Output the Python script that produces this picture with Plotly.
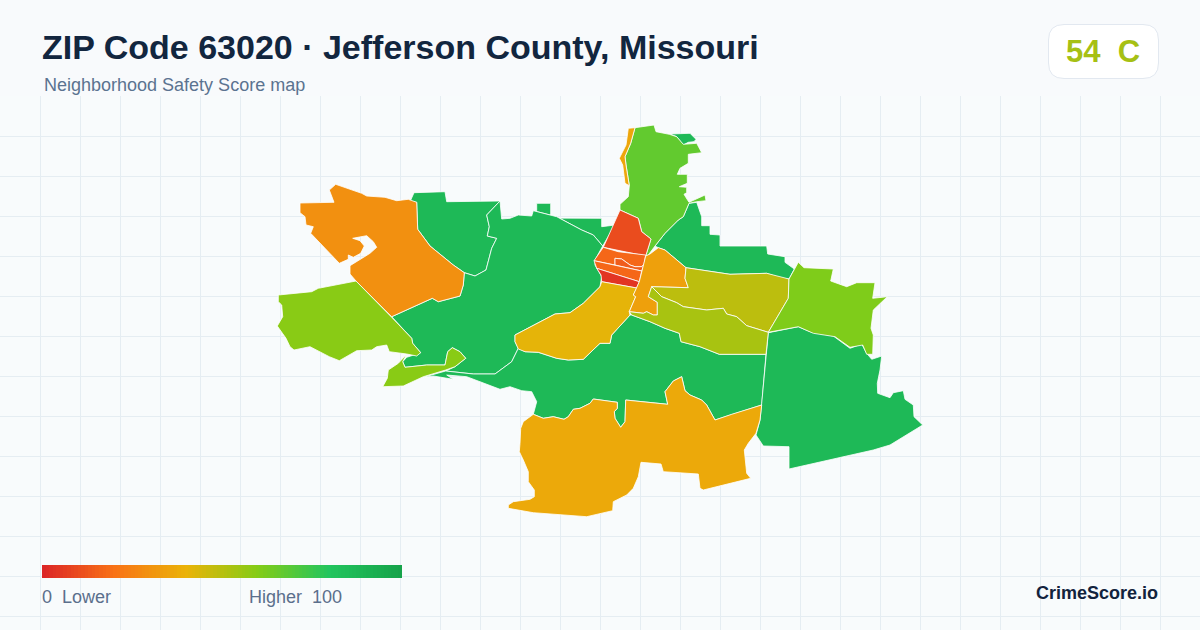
"""Neighborhood safety score map for ZIP 63020, outlines traced in picture pixels."""

import numpy as np
import plotly.graph_objects as go

# ── Data ─────────────────────────────────────────────────────────────────────
TITLE = "ZIP Code 63020 · Jefferson County, Missouri"
SUBTITLE = "Neighborhood Safety Score map"
OVERALL = "54  C"
BRAND = "CrimeScore.io"

score_stops = [0, 20, 40, 60, 80, 100]
score_colors = ["#dc2626", "#f97316", "#eab308", "#84cc16", "#22c55e", "#16a34a"]
ramp_scores = list(range(0, 101))

nw_green = [(410, 201.7), (414, 192.7), (445, 191.7), (446.7, 201.7), (500, 201), (486.7, 215), (489.3, 226.7),
            (487.3, 236), (496.7, 238.3), (491.7, 248.3), (486, 270), (475, 276), (464.3, 272.7), (453.3, 265),
            (430, 246), (417.7, 229.3), (416.7, 202.3)]
north_green = [(533.3, 210.7), (536.7, 210.7), (536.7, 203.3), (550.7, 203.3), (550.7, 216), (558, 218),
               (601.7, 218.3), (601.7, 226.7), (615, 225), (602.7, 246), (593.3, 235), (581.7, 230), (556.7, 216.7)]
center_green = [(464.3, 272.7), (475, 276), (486, 270), (491.7, 248.3), (496.7, 238.3), (487.3, 236), (489.3, 226.7),
                (486.7, 215), (500, 201), (501.7, 219), (510, 218.3), (518.3, 215), (531.7, 216), (533.3, 210.7),
                (556.7, 216.7), (581.7, 230), (593.3, 235), (602.7, 246), (595, 260), (595, 265), (601.7, 276.7),
                (600, 286.7), (583.3, 303.3), (570, 312.7), (555, 314), (515, 335), (515, 341.7), (518.3, 348.3),
                (511.7, 361.7), (495, 374), (473.3, 374), (445.7, 371), (455, 366.7), (465.7, 358.3), (460, 351.7),
                (452.3, 347.7), (447.7, 351.7), (445, 365), (426.7, 365), (413.3, 366.7), (405, 367.3), (402.7, 361.7),
                (406.7, 357.3), (420.7, 352.7), (412.7, 343.3), (411.7, 338.3), (391.7, 316.7), (432.3, 298.3),
                (438.3, 301.7), (460, 296), (463.3, 285)]
south_green = [(445.7, 371), (473.3, 374), (495, 374), (511.7, 361.7), (518.3, 348.3), (525, 351.7), (538.3, 352.3),
               (556.7, 358.3), (568.3, 360), (583.3, 359.3), (600, 343.3), (610, 343.3), (611.7, 335), (630, 315),
               (631.7, 315), (650, 321.7), (665, 328.3), (679.3, 333.3), (681, 341.7), (700, 346.7), (719.3, 354.3),
               (766, 354.3), (761.7, 405), (731.7, 414.3), (715, 420), (706.7, 405), (701.7, 400), (690, 395),
               (685, 390.7), (681.7, 376.7), (673.3, 381), (665, 391.7), (667.7, 404.3), (625.7, 400), (625, 421.7),
               (620.7, 427.3), (615, 418.3), (614.3, 411.7), (617.3, 408.3), (617.3, 402.3), (608.3, 401), (593.3, 399),
               (590, 403.3), (580, 408.3), (573.3, 409.3), (568.3, 416.7), (564, 419.3), (553.3, 416.7),
               (543.3, 418.3), (533.3, 414.3), (536.7, 401.7), (531.7, 391.7), (521.7, 390.7), (510, 386.7),
               (500, 389.3), (483.3, 383.3), (466.7, 376.7), (446.7, 375), (453.3, 379.3), (433.3, 376), (423.3, 377.3)]
east_green = [(696.7, 202.3), (701.7, 216.7), (701.7, 225.7), (710, 225.7), (710, 234.3), (720, 235), (720, 246),
              (766.7, 246), (767.7, 254), (785, 256.7), (785, 262.3), (794.3, 269), (789, 279), (781.7, 278.3),
              (766.7, 273.3), (730, 274.3), (686, 267.7), (665, 250), (658.3, 247.7), (655, 246), (665, 233.3),
              (678.3, 220), (683.3, 216.7), (689, 203.3)]
north_sliver = [(670, 134), (690, 133.3), (696, 139.3), (694, 141.7), (688.3, 142.3), (683.3, 145), (676.7, 136.7)]
southeast_green = [(768.3, 332.7), (798.3, 326.7), (810, 331.7), (833.3, 336), (850, 348.3), (861.7, 344),
                   (866.7, 353.3), (871.7, 359.3), (881.7, 356), (880, 370), (877.3, 383.3), (877.7, 393.3),
                   (890, 397.7), (893.3, 392.7), (903.3, 390.7), (905, 399.3), (913.3, 405), (914, 416.7),
                   (922.7, 425), (890, 445), (873.3, 450), (789, 469), (789, 446.7), (763.3, 446), (756, 435),
                   (760, 420), (761.7, 403.3)]
nw_orange = [(335.7, 184.3), (361.7, 193.3), (366.7, 196), (385, 197.3), (396.7, 200.7), (408.3, 199.3),
             (416.7, 202.3), (417.7, 229.3), (430, 246), (453.3, 265), (464.3, 272.7), (463.3, 285), (460, 296),
             (438.3, 301.7), (432.3, 298.3), (391.7, 316.7), (356, 281), (350, 274), (350, 265.7), (365, 256),
             (370, 253.3), (376.7, 247.3), (373.3, 241.7), (366.7, 235.7), (352.7, 238.3), (360, 240.7), (364.3, 246),
             (360.7, 253.3), (353.3, 257.3), (348.3, 255), (348.3, 259.3), (339.3, 263.3), (310.7, 233.3),
             (313.3, 226.7), (306, 225), (305, 216.7), (300, 212.7), (300, 203), (334, 202.3), (329.3, 190)]
west_lime = [(278.3, 295), (311.7, 291.7), (318.3, 288.3), (356, 281), (391.7, 317.3), (411.7, 338.3), (412.7, 343.3),
             (420.7, 352.7), (416.7, 356), (406.7, 354), (389.3, 351.7), (386.7, 345), (376.7, 346.7), (371.7, 350),
             (356.7, 350.7), (339.3, 360.7), (329.3, 356.7), (310, 346.7), (294, 350), (290, 346.7), (286, 338.3),
             (277.3, 326), (282.7, 316.7), (281.7, 305), (278.3, 301.7)]
strip_lime = [(382.7, 386.7), (387.3, 378.3), (388.3, 370), (398.3, 363.3), (406.7, 354.3), (402.7, 361.7), (405, 367.3),
              (413.3, 366.7), (426.7, 365), (445, 365), (447.7, 351.7), (452.3, 347.7), (460, 351.7), (465.7, 358.3),
              (455, 366.7), (445.7, 370), (423.3, 376.7), (403.3, 386)]
north_lime = [(635, 127.7), (654, 125), (656, 131.7), (669.3, 134.3), (676.7, 136.7), (683.3, 144.3), (696.7, 143.3),
              (701.7, 152.7), (688.3, 154.3), (688.3, 163.3), (680, 168.3), (677.3, 174.3), (687.3, 174.3),
              (687.3, 183.3), (679.3, 186.7), (686.7, 187.3), (686.7, 192.7), (684, 194.3), (689, 202.3), (705, 195),
              (706, 200.7), (696.7, 201.7), (689, 203.3), (683.3, 216.7), (678.3, 220), (665, 233.3), (655, 246),
              (648.3, 255), (645.7, 256), (651, 239), (641.7, 231.7), (638.3, 218.3), (620, 210), (620, 204.3),
              (628.3, 196.7), (629.3, 185.7), (626, 165), (625, 156.7), (630.7, 143.3)]
north_strip = [(628.3, 128.3), (635, 127.7), (630.7, 143.3), (625, 156.7), (626, 165), (629.3, 185.7), (625, 183.3),
               (622.7, 165), (619.3, 158.3), (626, 145)]
top_red = [(620, 210), (638.3, 218.3), (641.7, 231.7), (651, 239), (645.7, 256), (603.3, 247.3)]
upper_band = [(603.3, 247.3), (618.3, 251.7), (645.7, 255), (644, 264.3), (641.7, 266.7), (635, 266.7), (630, 265),
              (621.7, 259), (615, 258.3), (615, 265), (594, 260.7)]
inner_band = [(615, 258.3), (621.7, 259), (630, 265), (635, 266.7), (641.7, 266.7), (644, 264.3), (641.7, 271), (615, 265)]
lower_band = [(594, 260.7), (615, 265), (641.7, 271), (639.3, 281.7), (596.7, 268.3)]
bottom_red = [(596.7, 268.3), (639.3, 281.7), (636.7, 288), (601.7, 281.7), (601, 275)]
center_yellow = [(515, 335), (555, 314), (570, 312.7), (583.3, 303.3), (600, 286.7), (601.7, 281.7), (636.7, 288),
                 (633.3, 295), (635.7, 296.7), (629.3, 311.7), (630, 315), (611.7, 335), (610, 343.3), (600, 343.3),
                 (583.3, 359.3), (568.3, 360), (556.7, 358.3), (538.3, 352.3), (525, 351.7), (518.3, 349), (515, 341.7)]
center_orange = [(658.3, 247.7), (665, 250), (686, 267.7), (685, 278.3), (688.3, 287.7), (651.7, 286.7), (648.3, 296.7),
                 (657.3, 302.3), (657.3, 315), (653.3, 315), (646.7, 311.7), (643.3, 313.3), (629.3, 311.7),
                 (635.7, 296.7), (633.3, 295), (636.7, 288), (639.3, 281.7), (645.7, 256), (650, 254)]
upper_olive = [(686, 267.7), (730, 274.3), (766.7, 273.3), (789, 279), (788.3, 298.3), (768.3, 332.3), (746.7, 325.7),
               (736.7, 316.7), (726.7, 314), (723.3, 308.3), (706.7, 310), (683.3, 306.7), (676.7, 302.7),
               (661.7, 296.7), (651.7, 286.7), (688.3, 287.7), (685, 278.3)]
lower_olive = [(651.7, 286.7), (661.7, 296.7), (676.7, 302.7), (683.3, 306.7), (706.7, 310), (723.3, 308.3),
               (726.7, 314), (736.7, 316.7), (746.7, 325.7), (768.3, 332.3), (766, 354.3), (719.3, 354.3), (700, 346.7),
               (681, 341.7), (679.3, 333.3), (665, 328.3), (650, 321.7), (631.7, 315), (629.3, 311.7), (643.3, 313.3),
               (646.7, 311.7), (653.3, 315), (657.3, 315), (657.3, 302.3), (648.3, 296.7)]
east_lime = [(798.3, 262.3), (804, 267.7), (833.3, 269), (830.7, 281), (846.7, 286.7), (856.7, 282.7), (875, 282.7),
             (872.7, 298.3), (887.3, 296.7), (873.3, 310), (871, 328.3), (873.3, 335), (872.7, 354.3), (866.7, 354.3),
             (862.7, 345), (850, 347.3), (835, 336.7), (813.3, 333.3), (798.3, 326.7), (768.3, 332.3), (788.3, 298.3),
             (789, 279)]
south_orange = [(533.3, 414.3), (543.3, 418.3), (553.3, 416.7), (564, 419.3), (568.3, 416.7), (573.3, 409.3), (580, 408.3),
                (590, 403.3), (593.3, 399), (608.3, 401), (617.3, 402.3), (617.3, 408.3), (614.3, 411.7), (615, 418.3),
                (620.7, 427.3), (625, 421.7), (625.7, 400), (667.7, 404.3), (665, 391.7),
                (673.3, 381), (681.7, 376.7), (685, 390.7), (690, 395), (701.7, 400), (706.7, 405), (715, 420),
                (731.7, 414.3), (761.7, 405), (760, 420), (756, 433.3), (748.3, 443.3), (744.3, 450), (745.7, 463.3),
                (746.7, 473.3), (750.7, 478.3), (703.3, 490), (700, 488.3), (698.3, 474), (663.3, 471.7), (661, 464),
                (641, 462.3), (638.3, 476.7), (633.3, 488.3), (626.7, 495), (613.3, 501.7), (612.7, 510.7), (586.7, 516.7),
                (533.3, 512.7), (508.3, 508.3), (508.3, 505), (513.3, 501.7), (530, 499.3), (534.3, 496.7), (534.3, 490),
                (528.3, 481.7), (528.3, 471.7), (523.3, 460), (519.3, 451.7), (520, 443.3), (520.7, 428.3), (523.3, 421.7),
                (531.7, 415)]

region_names = ["nw_green", "north_green", "center_green", "south_green", "east_green", "north_sliver",
                "southeast_green", "nw_orange", "west_lime", "strip_lime", "north_lime", "north_strip", "top_red",
                "upper_band", "inner_band", "lower_band", "bottom_red", "center_yellow", "center_orange",
                "upper_olive", "lower_olive", "east_lime", "south_orange"]
region_shapes = [nw_green, north_green, center_green, south_green, east_green, north_sliver,
                 southeast_green, nw_orange, west_lime, strip_lime, north_lime, north_strip, top_red,
                 upper_band, inner_band, lower_band, bottom_red, center_yellow, center_orange,
                 upper_olive, lower_olive, east_lime, south_orange]
region_scores = [87, 87, 87, 87, 87, 87, 87, 29, 59, 59, 67, 36, 10, 17, 14, 17, 4, 41, 34, 49, 53, 61, 37]

W, H = 1200, 630
HEADER = 96


def score_color(score):
    rgb = [int(score_colors[i][j:j + 2], 16) for i in range(6) for j in (1, 3, 5)]
    rgb = np.array(rgb).reshape(6, 3)
    vals = [np.interp(score, score_stops, rgb[:, k]) for k in range(3)]
    return f"rgb({vals[0]:.0f},{vals[1]:.0f},{vals[2]:.0f})"


def px(x):
    return x / W


def py(y):
    return 1 - y / H


fig = go.Figure()

# ── Legend ramp ──────────────────────────────────────────────────────────────
scale = [[s / 100, c] for s, c in zip(score_stops, score_colors)]
ramp_dx = 360 / len(ramp_scores)
fig.add_trace(go.Heatmap(
    z=[ramp_scores], x0=42 + ramp_dx / 2, dx=ramp_dx, y0=571.5, dy=13,
    colorscale=scale, zmin=0, zmax=100, showscale=False, hoverinfo="skip",
))

# ── Neighborhoods ────────────────────────────────────────────────────────────
for name, outline, score in zip(region_names, region_shapes, region_scores):
    xs = [p[0] for p in outline] + [outline[0][0]]
    ys = [p[1] for p in outline] + [outline[0][1]]
    fig.add_trace(go.Scatter(
        x=xs, y=ys, mode="lines", fill="toself", fillcolor=score_color(score),
        line=dict(color="white", width=0.8), name=name, text=f"{name}: {score}", hoverinfo="text",
    ))

# ── Header, badge, labels ────────────────────────────────────────────────────
fig.add_shape(
    type="path", xref="paper", yref="paper", layer="above",
    path=(f"M {px(1064)} {py(24.5)} L {px(1143)} {py(24.5)} Q {px(1158.5)} {py(24.5)} {px(1158.5)} {py(40)} "
          f"L {px(1158.5)} {py(63)} Q {px(1158.5)} {py(78.5)} {px(1143)} {py(78.5)} L {px(1064)} {py(78.5)} "
          f"Q {px(1048.5)} {py(78.5)} {px(1048.5)} {py(63)} L {px(1048.5)} {py(40)} Q {px(1048.5)} {py(24.5)} "
          f"{px(1064)} {py(24.5)} Z"),
    fillcolor="white", line=dict(color="#e2e8f0", width=1),
)


def label(x, y, text, size, color, bold=False, anchor="left"):
    fig.add_annotation(
        x=px(x), y=py(y), xref="paper", yref="paper", text=f"<b>{text}</b>" if bold else text,
        showarrow=False, xanchor=anchor, yanchor="middle", borderpad=0, borderwidth=0,
        font=dict(family="Liberation Sans", size=size, color=color),
    )


label(42, 47, TITLE, 34, "#12263f", bold=True)
label(44, 85, SUBTITLE, 18, "#5b7390")
label(1103, 51, OVERALL, 31, "#a6c014", bold=True, anchor="center")
label(42, 597, "0  Lower", 18, "#5b6f8c")
label(342, 597, "Higher  100", 18, "#5b6f8c", anchor="right")
label(1158, 593, BRAND, 18, "#12233d", bold=True, anchor="right")

fig.update_layout(
    width=W, height=H, margin=dict(l=0, r=0, t=0, b=0),
    paper_bgcolor="#f8fafc", plot_bgcolor="#f8fbfc", showlegend=False,
    font=dict(family="Liberation Sans"),
)
fig.update_xaxes(
    range=[0, W], showgrid=True, gridcolor="#e5edf2", gridwidth=1, tick0=0.5, dtick=40,
    showticklabels=False, ticks="", zeroline=False, showline=False,
)
fig.update_yaxes(
    range=[H, HEADER], domain=[0, py(HEADER)], showgrid=True, gridcolor="#e5edf2", gridwidth=1,
    tick0=HEADER + 0.5, dtick=40, showticklabels=False, ticks="", zeroline=False, showline=False,
)

fig.write_html("out.html", config={"displayModeBar": False},
               post_script="document.body.style.margin='0';document.documentElement.style.overflow='hidden';")
